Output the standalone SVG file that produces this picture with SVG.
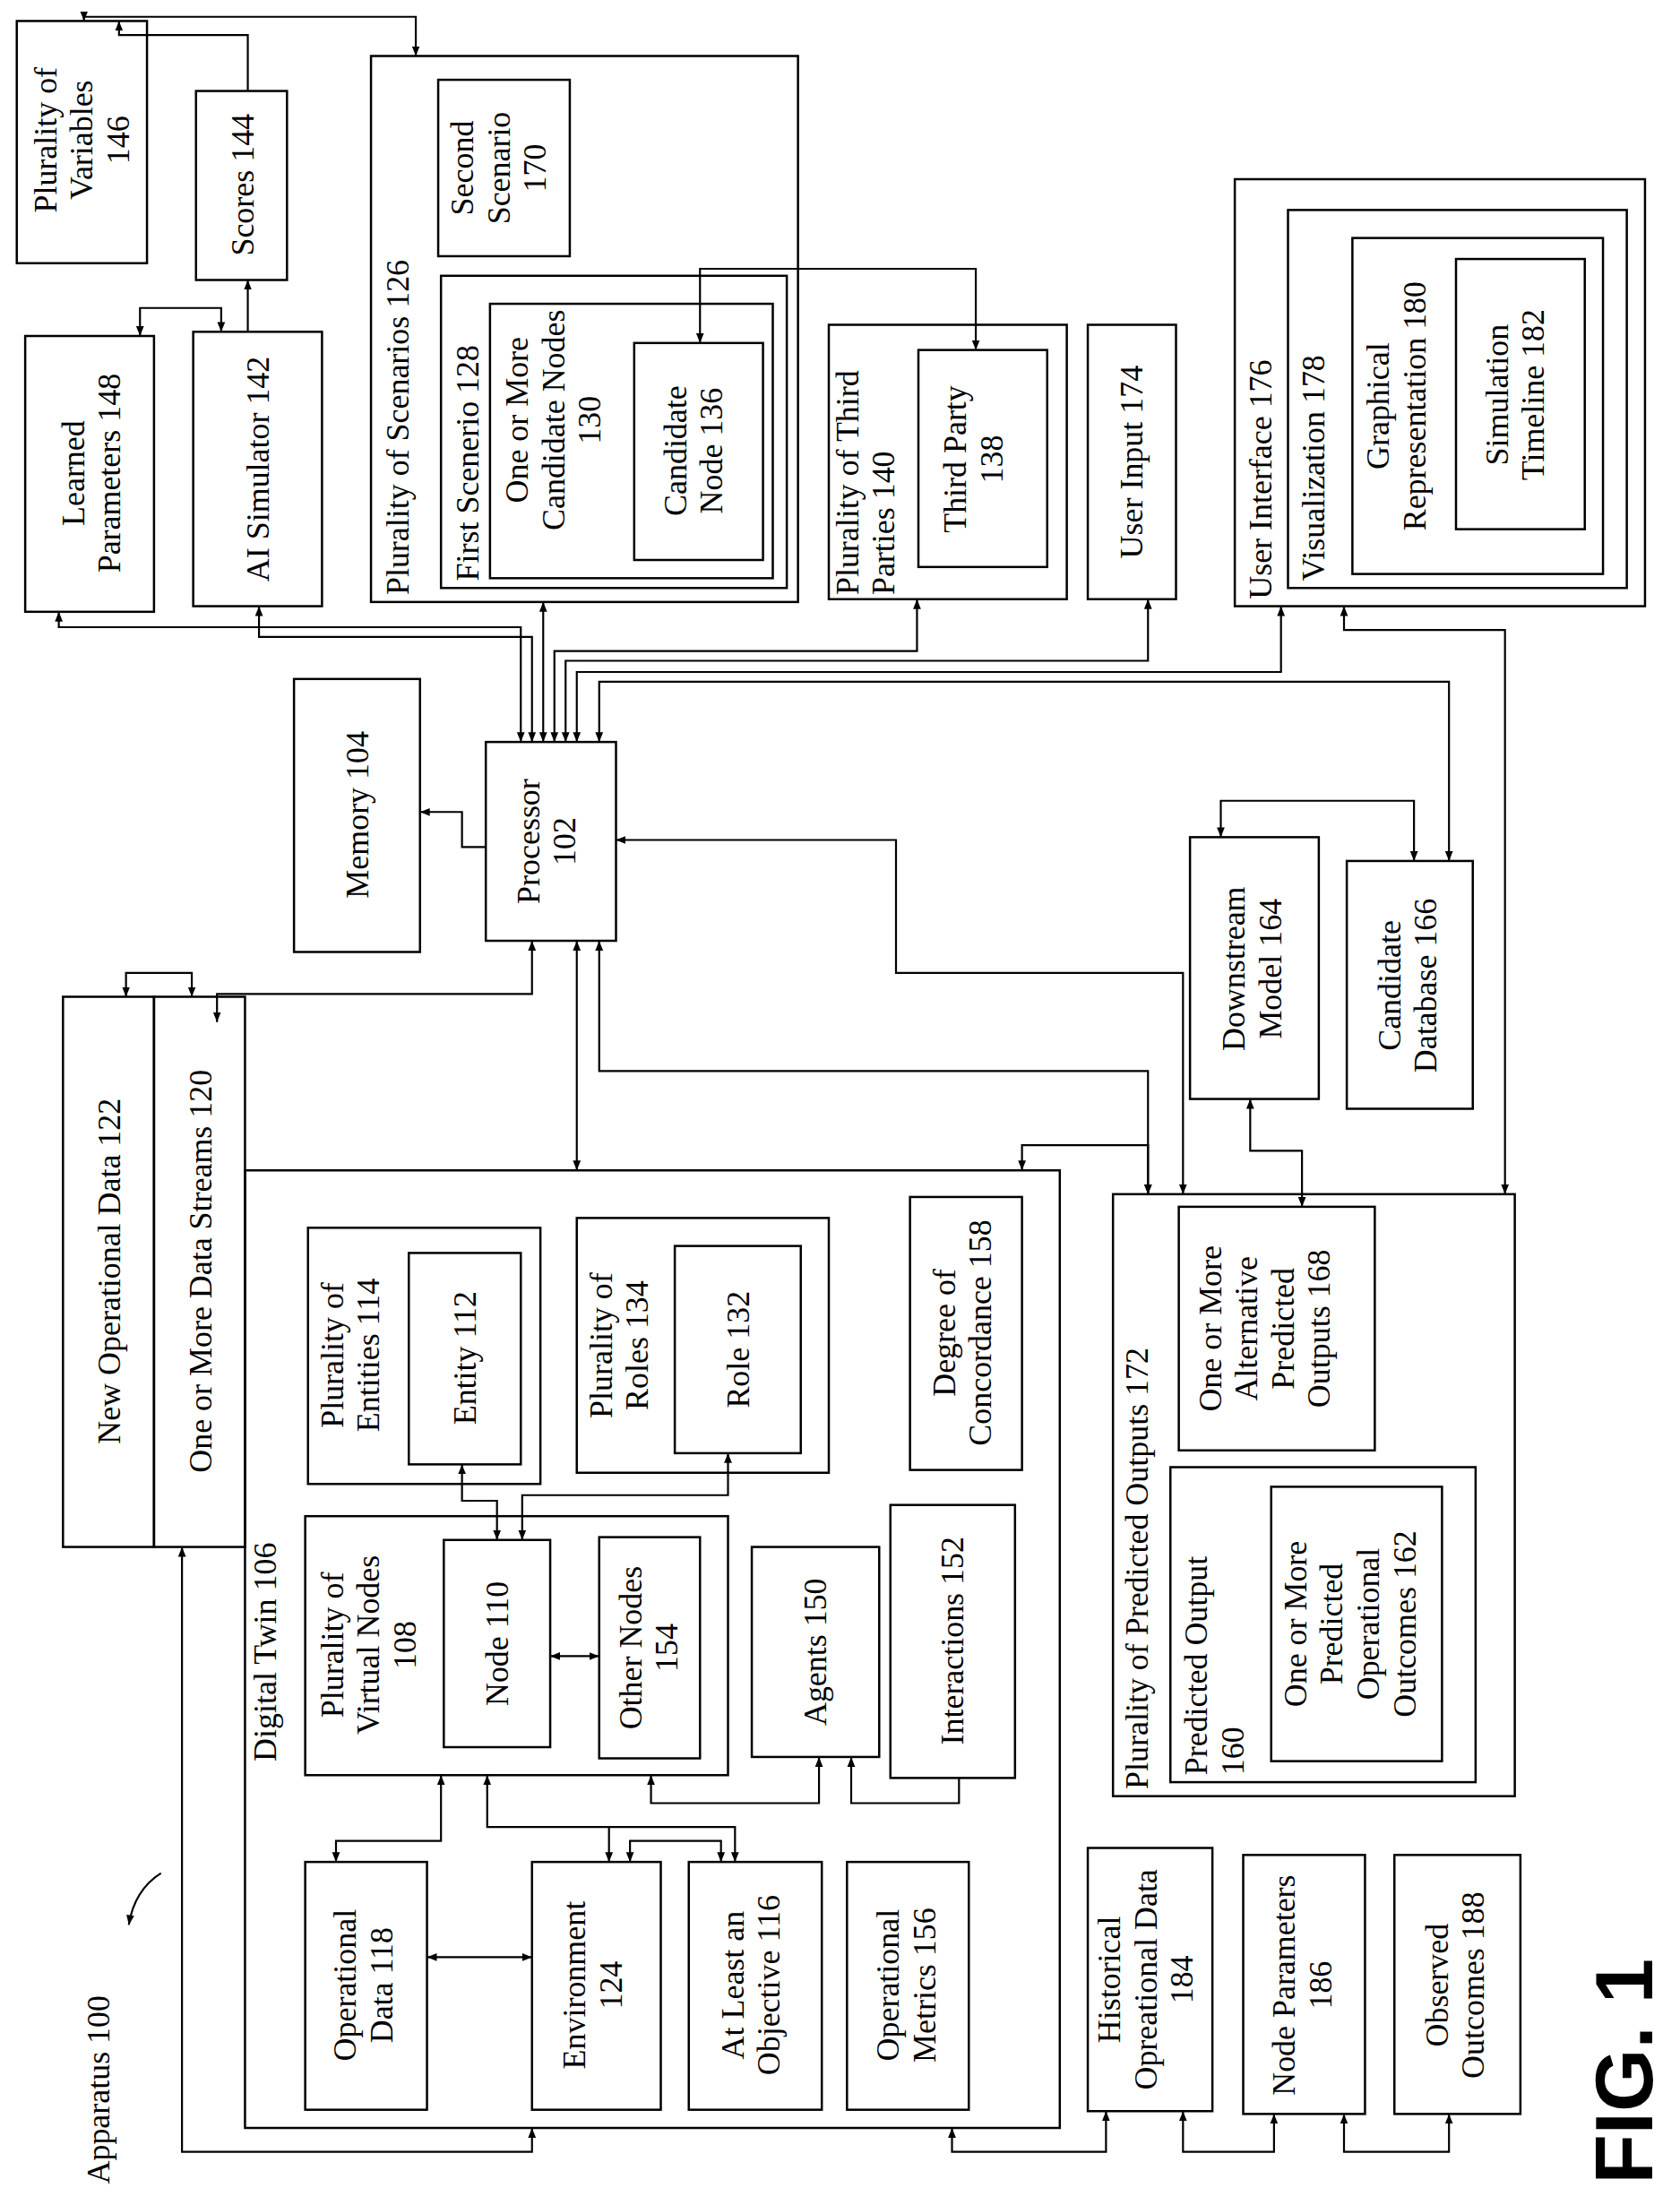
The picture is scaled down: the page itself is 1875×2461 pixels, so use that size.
<svg xmlns="http://www.w3.org/2000/svg" width="1875" height="2461" viewBox="0 0 1875 2461">
<style>
rect{fill:none;stroke:#000;stroke-width:1.6}
path{fill:none;stroke:#000;stroke-width:1.4}
text{font-family:"Liberation Serif",serif;font-size:23px;fill:#000;text-anchor:middle}
.s{text-anchor:start}
</style>
<defs>
<marker id="a" viewBox="0 0 10 10" refX="10" refY="5" markerWidth="7" markerHeight="7" orient="auto-start-reverse" markerUnits="userSpaceOnUse"><path d="M0,1 L10,5 L0,9 z" style="fill:#000;stroke:none"/></marker>
</defs>
<rect x="0" y="0" width="1875" height="2461" style="fill:#fff;stroke:none"/>
<g transform="scale(1.5625)">
<g id="n146"><rect x="12" y="15" width="93" height="173"/><text transform="translate(40,100) rotate(-90)">Plurality of</text><text transform="translate(66,100) rotate(-90)">Variables</text><text transform="translate(92,100) rotate(-90)">146</text></g>
<g id="n144"><rect x="140" y="65" width="65" height="135"/><text transform="translate(181,132) rotate(-90)">Scores 144</text></g>
<g id="n148"><rect x="18" y="240" width="92" height="197"/><text transform="translate(60,338) rotate(-90)">Learned</text><text transform="translate(86,338) rotate(-90)">Parameters 148</text></g>
<g id="n142"><rect x="138" y="237" width="92" height="196"/><text transform="translate(192,335) rotate(-90)">AI Simulator 142</text></g>
<g id="n126"><rect x="265" y="40" width="305" height="390"/><text class="s" transform="translate(292,425) rotate(-90)">Plurality of Scenarios 126</text></g>
<g id="n170"><rect x="313" y="57" width="94" height="126"/><text transform="translate(338,120) rotate(-90)">Second</text><text transform="translate(364,120) rotate(-90)">Scenario</text><text transform="translate(390,120) rotate(-90)">170</text></g>
<g id="n128"><rect x="315" y="197" width="247" height="223"/><text class="s" transform="translate(342,415) rotate(-90)">First Scenerio 128</text></g>
<g id="n130"><rect x="350" y="217" width="202" height="196"/><text transform="translate(377,300) rotate(-90)">One or More</text><text transform="translate(403,300) rotate(-90)">Candidate Nodes</text><text transform="translate(429,300) rotate(-90)">130</text></g>
<g id="n136"><rect x="453" y="245" width="92" height="155"/><text transform="translate(490,322) rotate(-90)">Candidate</text><text transform="translate(516,322) rotate(-90)">Node 136</text></g>
<g id="n140"><rect x="592" y="232" width="170" height="196"/><text class="s" transform="translate(613,425) rotate(-90)">Plurality of Third</text><text class="s" transform="translate(639,425) rotate(-90)">Parties 140</text></g>
<g id="n138"><rect x="656" y="250" width="92" height="155"/><text transform="translate(690,328) rotate(-90)">Third Party</text><text transform="translate(716,328) rotate(-90)">138</text></g>
<g id="n174"><rect x="777" y="232" width="63" height="196"/><text transform="translate(816,330) rotate(-90)">User Input 174</text></g>
<g id="n176"><rect x="882" y="128" width="293" height="305"/><text class="s" transform="translate(908,428) rotate(-90)">User Interface 176</text></g>
<g id="n178"><rect x="920" y="150" width="242" height="270"/><text class="s" transform="translate(946,415) rotate(-90)">Visualization 178</text></g>
<g id="n180"><rect x="966" y="170" width="179" height="240"/><text transform="translate(992,290) rotate(-90)">Graphical</text><text transform="translate(1018,290) rotate(-90)">Representation 180</text></g>
<g id="n182"><rect x="1040" y="185" width="92" height="193"/><text transform="translate(1077,282) rotate(-90)">Simulation</text><text transform="translate(1103,282) rotate(-90)">Timeline 182</text></g>
<g id="n104"><rect x="210" y="485" width="90" height="195"/><text transform="translate(263,582) rotate(-90)">Memory 104</text></g>
<g id="n102"><rect x="347" y="530" width="93" height="142"/><text transform="translate(385,601) rotate(-90)">Processor</text><text transform="translate(411,601) rotate(-90)">102</text></g>
<g id="n164"><rect x="850" y="598" width="92" height="187"/><text transform="translate(889,692) rotate(-90)">Downstream</text><text transform="translate(915,692) rotate(-90)">Model 164</text></g>
<g id="n166"><rect x="962" y="615" width="90" height="177"/><text transform="translate(1000,704) rotate(-90)">Candidate</text><text transform="translate(1026,704) rotate(-90)">Database 166</text></g>
<g id="n122"><rect x="45" y="712" width="65" height="393"/><text transform="translate(86,908) rotate(-90)">New Operational Data 122</text></g>
<g id="n120"><rect x="110" y="712" width="65" height="393"/><text transform="translate(151,908) rotate(-90)">One or More Data Streams 120</text></g>
<g id="n106"><rect x="175" y="836" width="582" height="684"/><text transform="translate(197,1180) rotate(-90)">Digital Twin 106</text></g>
<g id="n114"><rect x="220" y="877" width="166" height="183"/><text transform="translate(245,968) rotate(-90)">Plurality of</text><text transform="translate(271,968) rotate(-90)">Entities 114</text></g>
<g id="n112"><rect x="292" y="895" width="80" height="151"/><text transform="translate(340,970) rotate(-90)">Entity 112</text></g>
<g id="n134"><rect x="412" y="870" width="180" height="182"/><text transform="translate(437,961) rotate(-90)">Plurality of</text><text transform="translate(463,961) rotate(-90)">Roles 134</text></g>
<g id="n132"><rect x="482" y="890" width="90" height="148"/><text transform="translate(535,964) rotate(-90)">Role 132</text></g>
<g id="n158"><rect x="650" y="855" width="80" height="195"/><text transform="translate(682,952) rotate(-90)">Degree of</text><text transform="translate(708,952) rotate(-90)">Concordance 158</text></g>
<g id="n108"><rect x="218" y="1083" width="302" height="185"/><text transform="translate(245,1175) rotate(-90)">Plurality of</text><text transform="translate(271,1175) rotate(-90)">Virtual Nodes</text><text transform="translate(297,1175) rotate(-90)">108</text></g>
<g id="n110"><rect x="317" y="1100" width="76" height="148"/><text transform="translate(363,1174) rotate(-90)">Node 110</text></g>
<g id="n154"><rect x="428" y="1098" width="72" height="158"/><text transform="translate(458,1177) rotate(-90)">Other Nodes</text><text transform="translate(484,1177) rotate(-90)">154</text></g>
<g id="n150"><rect x="537" y="1105" width="91" height="150"/><text transform="translate(590,1180) rotate(-90)">Agents 150</text></g>
<g id="n152"><rect x="636" y="1075" width="89" height="195"/><text transform="translate(688,1172) rotate(-90)">Interactions 152</text></g>
<g id="n118"><rect x="218" y="1330" width="87" height="177"/><text transform="translate(254,1418) rotate(-90)">Operational</text><text transform="translate(280,1418) rotate(-90)">Data 118</text></g>
<g id="n124"><rect x="380" y="1330" width="92" height="177"/><text transform="translate(418,1418) rotate(-90)">Environment</text><text transform="translate(444,1418) rotate(-90)">124</text></g>
<g id="n116"><rect x="492" y="1330" width="95" height="177"/><text transform="translate(531,1418) rotate(-90)">At Least an</text><text transform="translate(557,1418) rotate(-90)">Objective 116</text></g>
<g id="n156"><rect x="605" y="1330" width="87" height="177"/><text transform="translate(642,1418) rotate(-90)">Operational</text><text transform="translate(668,1418) rotate(-90)">Metrics 156</text></g>
<g id="n172"><rect x="795" y="853" width="287" height="430"/><text class="s" transform="translate(820,1278) rotate(-90)">Plurality of Predicted Outputs 172</text></g>
<g id="n168"><rect x="842" y="862" width="140" height="174"/><text transform="translate(872,949) rotate(-90)">One or More</text><text transform="translate(898,949) rotate(-90)">Alternative</text><text transform="translate(924,949) rotate(-90)">Predicted</text><text transform="translate(950,949) rotate(-90)">Outputs 168</text></g>
<g id="n160"><rect x="836" y="1048" width="218" height="225"/><text class="s" transform="translate(862,1268) rotate(-90)">Predicted Output</text><text class="s" transform="translate(888,1268) rotate(-90)">160</text></g>
<g id="n162"><rect x="908" y="1062" width="122" height="196"/><text transform="translate(933,1160) rotate(-90)">One or More</text><text transform="translate(959,1160) rotate(-90)">Predicted</text><text transform="translate(985,1160) rotate(-90)">Operational</text><text transform="translate(1011,1160) rotate(-90)">Outcomes 162</text></g>
<g id="n184"><rect x="777" y="1320" width="89" height="188"/><text transform="translate(800,1414) rotate(-90)">Historical</text><text transform="translate(826,1414) rotate(-90)">Opreational Data</text><text transform="translate(852,1414) rotate(-90)">184</text></g>
<g id="n186"><rect x="888" y="1325" width="87" height="185"/><text transform="translate(925,1418) rotate(-90)">Node Parameters</text><text transform="translate(951,1418) rotate(-90)">186</text></g>
<g id="n188"><rect x="996" y="1325" width="90" height="185"/><text transform="translate(1034,1418) rotate(-90)">Observed</text><text transform="translate(1060,1418) rotate(-90)">Outcomes 188</text></g>
<g id="label100"><text class="s" transform="translate(78,1560) rotate(-90)">Apparatus 100</text><path d="M92,1375 Q96,1350 115,1338" marker-start="url(#a)"/></g>
<g id="fig"><text class="s" transform="translate(1180,1560) rotate(-90)" style="font-family:'Liberation Sans',sans-serif;font-weight:bold;font-size:58px">FIG. 1</text></g>
<g id="connectors">
<path d="M60,15 V12 H297 V40" marker-start="url(#a)" marker-end="url(#a)"/>
<path d="M177,65 V25 H85 V15" marker-end="url(#a)"/>
<path d="M177,237 V200" marker-end="url(#a)"/>
<path d="M100,240 V220 H158 V237" marker-start="url(#a)" marker-end="url(#a)"/>
<path d="M42,437 V448 H372 V530" marker-start="url(#a)" marker-end="url(#a)"/>
<path d="M185,433 V455 H380 V530" marker-start="url(#a)" marker-end="url(#a)"/>
<path d="M388,430 V530" marker-start="url(#a)" marker-end="url(#a)"/>
<path d="M500,245 V192 H697 V250" marker-start="url(#a)" marker-end="url(#a)"/>
<path d="M655,428 V465 H396 V530" marker-start="url(#a)" marker-end="url(#a)"/>
<path d="M820,428 V472 H404 V530" marker-start="url(#a)" marker-end="url(#a)"/>
<path d="M915,433 V480 H412 V530" marker-start="url(#a)" marker-end="url(#a)"/>
<path d="M960,433 V450 H1075 V853" marker-start="url(#a)" marker-end="url(#a)"/>
<path d="M428,530 V487 H1035 V615" marker-start="url(#a)" marker-end="url(#a)"/>
<path d="M872,598 V572 H1010 V615" marker-start="url(#a)" marker-end="url(#a)"/>
<path d="M347,605 H330 V580 H300" marker-end="url(#a)"/>
<path d="M440,600 H640 V695 H845 V853" marker-start="url(#a)" marker-end="url(#a)"/>
<path d="M380,672 V710 H155 V730" marker-start="url(#a)" marker-end="url(#a)"/>
<path d="M412,672 V836" marker-start="url(#a)" marker-end="url(#a)"/>
<path d="M428,672 V765 H820 V853" marker-start="url(#a)" marker-end="url(#a)"/>
<path d="M90,712 V695 H137 V712" marker-start="url(#a)" marker-end="url(#a)"/>
<path d="M130,1105 V1537 H380 V1520" marker-start="url(#a)" marker-end="url(#a)"/>
<path d="M680,1520 V1537 H790 V1508" marker-start="url(#a)" marker-end="url(#a)"/>
<path d="M845,1508 V1537 H910 V1510" marker-start="url(#a)" marker-end="url(#a)"/>
<path d="M960,1510 V1537 H1035 V1510" marker-start="url(#a)" marker-end="url(#a)"/>
<path d="M730,836 V818 H820 V853" marker-start="url(#a)" marker-end="url(#a)"/>
<path d="M893,785 V822 H930 V862" marker-start="url(#a)" marker-end="url(#a)"/>
<path d="M330,1046 V1072 H355 V1100" marker-start="url(#a)" marker-end="url(#a)"/>
<path d="M520,1038 V1068 H373 V1100" marker-start="url(#a)" marker-end="url(#a)"/>
<path d="M393,1183 H428" marker-start="url(#a)" marker-end="url(#a)"/>
<path d="M315,1268 V1315 H240 V1330" marker-start="url(#a)" marker-end="url(#a)"/>
<path d="M348,1268 V1305 H435 V1330" marker-start="url(#a)" marker-end="url(#a)"/>
<path d="M435,1305 H525 V1330" marker-end="url(#a)"/>
<path d="M450,1330 V1315 H515 V1330" marker-start="url(#a)" marker-end="url(#a)"/>
<path d="M465,1268 V1288 H585 V1255" marker-start="url(#a)" marker-end="url(#a)"/>
<path d="M685,1270 V1288 H608 V1255" marker-end="url(#a)"/>
<path d="M305,1398 H380" marker-start="url(#a)" marker-end="url(#a)"/>
</g>
</g>
</svg>
